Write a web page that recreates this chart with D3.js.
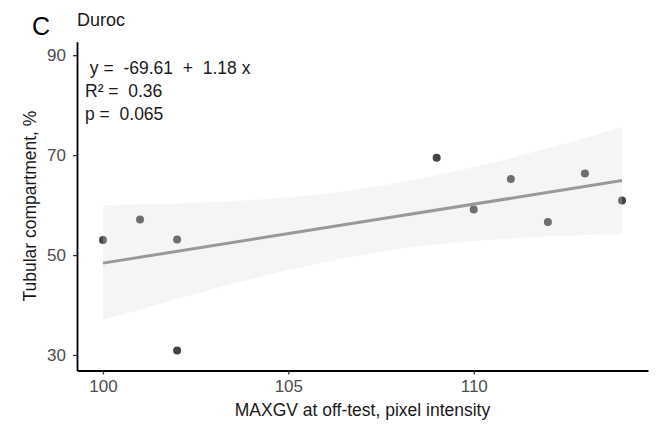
<!DOCTYPE html>
<html>
<head>
<meta charset="utf-8">
<script src="https://cdn.jsdelivr.net/npm/d3@7"></script>
<style>
  body { margin: 0; background: #fff; }
  text { font-family: "Liberation Sans", Arial, sans-serif; }
</style>
</head>
<body>
<div id="chart"></div>
<script>
// observed points (MAXGV vs tubular compartment)
const maxgv = [100, 101, 102, 102, 109, 110, 111, 112, 113, 114];
const tubular = [53.0, 57.1, 53.1, 30.9, 69.5, 59.1, 65.2, 56.6, 66.3, 60.9];

// fitted line and its confidence band
const fitX = [100, 114];
const fitY = [48.39, 64.91];
const bandX = [100, 102, 104, 106, 108, 110, 112, 114];
const bandLow = [37.0, 41.2, 45.2, 48.6, 51.2, 52.8, 53.7, 54.2];
const bandHigh = [60.0, 60.3, 61.0, 62.3, 64.5, 67.6, 71.4, 75.6];

const xTicks = [100, 105, 110];
const yTicks = [30, 50, 70, 90];
const statLines = [" y =  -69.61  +  1.18 x", "R\u00B2 =  0.36", "p =  0.065"];

const width = 663;
const height = 425;
const margin = { top: 41.7, right: 15, bottom: 54.5, left: 77 };

const svg = d3
  .select("#chart")
  .append("svg")
  .attr("width", width)
  .attr("height", height);

const x = d3
  .scaleLinear()
  .domain([99.3, 114.7])
  .range([margin.left, 648]);

const y = d3
  .scaleLinear()
  .domain([26.9, 92.7])
  .range([height - margin.bottom, margin.top]);

// points first, the band is drawn over them (that is why some look lighter)
svg
  .append("g")
  .selectAll("circle")
  .data(maxgv.map((d, i) => ({ x: d, y: tubular[i] })))
  .enter()
  .append("circle")
  .attr("cx", (d) => x(d.x))
  .attr("cy", (d) => y(d.y))
  .attr("r", 4)
  .attr("fill", "#444444");

const band = bandX.map((d, i) => ({ x: d, lo: bandLow[i], hi: bandHigh[i] }));
svg
  .append("path")
  .datum(band)
  .attr(
    "d",
    d3
      .area()
      .x((d) => x(d.x))
      .y0((d) => y(d.lo))
      .y1((d) => y(d.hi))
      .curve(d3.curveMonotoneX)
  )
  .attr("fill", "rgb(218,218,218)")
  .attr("fill-opacity", 0.28);

svg
  .append("path")
  .datum(fitX.map((d, i) => ({ x: d, y: fitY[i] })))
  .attr(
    "d",
    d3
      .line()
      .x((d) => x(d.x))
      .y((d) => y(d.y))
  )
  .attr("fill", "none")
  .attr("stroke", "#999999")
  .attr("stroke-width", 3);

// axes
const xAxis = svg
  .append("g")
  .attr("transform", `translate(0, ${height - margin.bottom})`)
  .call(d3.axisBottom(x).tickValues(xTicks).tickSize(4).tickPadding(5).tickSizeOuter(0));

const yAxis = svg
  .append("g")
  .attr("transform", `translate(${margin.left}, 0)`)
  .call(d3.axisLeft(y).tickValues(yTicks).tickSize(4).tickPadding(7).tickSizeOuter(0));

[xAxis, yAxis].forEach((g) => {
  g.select(".domain").attr("stroke", "#000").attr("stroke-width", 1.8);
  g.selectAll(".tick line").attr("stroke", "#333").attr("stroke-width", 1.3);
  g.selectAll(".tick text")
    .attr("fill", "#4d4d4d")
    .style("font-size", "17px")
    .style("font-family", "'Liberation Sans', Arial, sans-serif");
});

// axis titles
svg
  .append("text")
  .attr("x", (margin.left + 648) / 2)
  .attr("y", 416)
  .attr("text-anchor", "middle")
  .attr("fill", "#1a1a1a")
  .style("font-size", "17.5px")
  .text("MAXGV at off-test, pixel intensity");

svg
  .append("text")
  .attr("transform", `translate(36, ${(margin.top + height - margin.bottom) / 2}) rotate(-90)`)
  .attr("text-anchor", "middle")
  .attr("fill", "#1a1a1a")
  .style("font-size", "17.5px")
  .text("Tubular compartment, %");

// panel letter and subtitle
svg
  .append("text")
  .attr("x", 32)
  .attr("y", 35)
  .attr("fill", "#000")
  .style("font-size", "25px")
  .text("C");

svg
  .append("text")
  .attr("x", 77)
  .attr("y", 26)
  .attr("fill", "#1a1a1a")
  .style("font-size", "18px")
  .text("Duroc");

// regression stats
svg
  .append("g")
  .selectAll("text")
  .data(statLines)
  .enter()
  .append("text")
  .attr("x", 85)
  .attr("y", (d, i) => [74, 97, 120][i])
  .attr("fill", "#1a1a1a")
  .style("font-size", "17.5px")
  .style("white-space", "pre")
  .text((d) => d);
</script>
</body>
</html>
